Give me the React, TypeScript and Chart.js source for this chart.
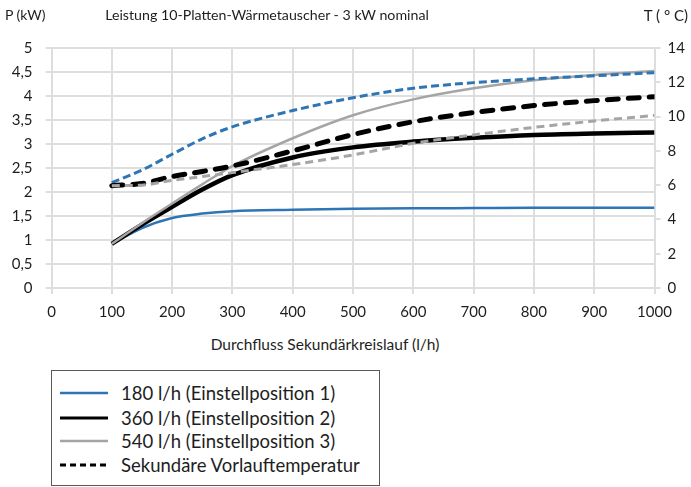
import React, { useEffect, useRef } from "react";
import { Chart, registerables } from "chart.js";

Chart.register(...registerables);

const flows = [100, 150, 200, 250, 300, 400, 500, 600, 700, 800, 900, 1000];
const power180 = [0.92, 1.25, 1.46, 1.55, 1.6, 1.63, 1.65, 1.66, 1.665, 1.67, 1.67, 1.67];
const power360 = [0.92, 1.32, 1.69, 2.05, 2.35, 2.72, 2.93, 3.05, 3.13, 3.19, 3.22, 3.24];
const power540 = [0.92, 1.35, 1.76, 2.16, 2.54, 3.12, 3.6, 3.93, 4.16, 4.33, 4.44, 4.52];
const temp180 = [6.15, 6.88, 7.8, 8.7, 9.4, 10.35, 11.1, 11.65, 11.98, 12.2, 12.38, 12.56];
const temp360 = [5.97, 6.1, 6.5, 6.8, 7.12, 8.0, 8.95, 9.7, 10.23, 10.64, 10.93, 11.16];
const temp540 = [5.97, 6.0, 6.28, 6.5, 6.73, 7.2, 7.76, 8.44, 8.93, 9.37, 9.74, 10.07];

const legendLabels = [
  "180 l/h (Einstellposition 1)",
  "360 l/h (Einstellposition 2)",
  "540 l/h (Einstellposition 3)",
  "Sekundäre Vorlauftemperatur",
];
const titleText = "Leistung 10-Platten-Wärmetauscher - 3 kW nominal";
const xTitle = "Durchfluss Sekundärkreislauf (l/h)";
const leftTitle = "P (kW)";
const rightTitle = "T ( ° C)";

const BLUE = "#2E75B6";
const BLACK = "#000000";
const GRAY = "#A5A5A5";
const GRID = "#dedede";
const TEXT = "#1e1e1e";
const FONT = "Lato, 'Liberation Sans', sans-serif";

const pts = (ys: number[]) => flows.map((x, i) => ({ x, y: ys[i] }));

export default function App() {
  const ref = useRef<HTMLCanvasElement | null>(null);
  useEffect(() => {
    document.body.style.margin = "0";
    const canvas = ref.current!;
    const base = {
      pointRadius: 0,
      cubicInterpolationMode: "monotone" as const,
      fill: false,
    };
    const chart = new Chart(canvas, {
      type: "line",
      data: {
        datasets: [
          { ...base, label: legendLabels[0], data: pts(power180), borderColor: BLUE, borderWidth: 2.5, yAxisID: "y", order: 6 },
          { ...base, label: legendLabels[1], data: pts(power360), borderColor: BLACK, borderWidth: 4.5, yAxisID: "y", order: 5 },
          { ...base, label: legendLabels[2], data: pts(power540), borderColor: GRAY, borderWidth: 2.5, yAxisID: "y", order: 4 },
          { ...base, label: "T 180", data: pts(temp180), borderColor: BLUE, borderWidth: 3, borderDash: [8, 4], yAxisID: "y1", order: 3 },
          { ...base, label: "T 360", data: pts(temp360), borderColor: BLACK, borderWidth: 5, borderDash: [11, 10], borderCapStyle: "round", yAxisID: "y1", order: 2 },
          { ...base, label: "T 540", data: pts(temp540), borderColor: GRAY, borderWidth: 3, borderDash: [8, 5], yAxisID: "y1", order: 1 },
        ],
      },
      options: {
        animation: false,
        responsive: false,
        maintainAspectRatio: false,
        layout: { padding: { top: 48, left: 0, right: 0, bottom: 0 } },
        plugins: { legend: { display: false }, tooltip: { enabled: false }, title: { display: false } },
        scales: {
          x: {
            type: "linear",
            min: 0,
            max: 1000,
            ticks: {
              stepSize: 100,
              color: TEXT,
              font: { family: FONT, size: 15 },
              padding: 9,
              maxRotation: 0,
              callback: (v: any) => String(v),
            },
            grid: { color: GRID, lineWidth: 2, tickLength: 6, drawTicks: true },
            border: { color: GRID, width: 2 },
            afterFit: (s: any) => { s.height = 42; },
          },
          y: {
            position: "left",
            min: 0,
            max: 5,
            ticks: {
              stepSize: 0.5,
              color: TEXT,
              font: { family: FONT, size: 15 },
              padding: 13,
              callback: (v: any) => String(v).replace(".", ","),
            },
            grid: { color: GRID, lineWidth: 2, tickLength: 6 },
            border: { color: GRID, width: 2 },
            afterFit: (s: any) => { s.width = 51.5; },
          },
          y1: {
            position: "right",
            min: 0,
            max: 14,
            ticks: { stepSize: 2, color: TEXT, font: { family: FONT, size: 15 }, padding: 7, callback: (v: any) => String(v) },
            grid: { drawOnChartArea: false, color: GRID, lineWidth: 2, tickLength: 6 },
            border: { color: GRID, width: 2 },
            afterFit: (s: any) => { s.width = 36.5; },
          },
        },
      },
    });
    return () => chart.destroy();
  }, []);

  const txt: React.CSSProperties = {
    position: "absolute",
    fontFamily: FONT,
    fontSize: 15,
    lineHeight: "20px",
    color: TEXT,
    whiteSpace: "nowrap",
  };
  const rowTops = [382, 407, 430, 454];

  return (
    <div style={{ position: "relative", width: 691, height: 487, overflow: "hidden", background: "#fff" }}>
      <canvas ref={ref} width={691} height={330} style={{ position: "absolute", left: 0, top: 0 }} />
      <div style={{ ...txt, left: 5, top: 5, fontSize: 14 }}>{leftTitle}</div>
      <div style={{ ...txt, left: 67, width: 400, top: 5, textAlign: "center", fontSize: 14.2 }}>{titleText}</div>
      <div style={{ ...txt, right: 3, top: 5 }}>{rightTitle}</div>
      <div style={{ ...txt, left: 125, width: 400, top: 334, textAlign: "center", fontSize: 15.5 }}>{xTitle}</div>
      <div
        style={{
          position: "absolute",
          left: 51,
          top: 370,
          width: 329,
          height: 116,
          border: "1px solid #5a5a5a",
          boxSizing: "border-box",
        }}
      />
      {legendLabels.map((l, i) => (
        <React.Fragment key={l}>
          <svg style={{ position: "absolute", left: 60, top: rowTops[i] + 7 }} width={48} height={8}>
            <line
              x1={0}
              y1={4}
              x2={48}
              y2={4}
              stroke={i === 0 ? BLUE : i === 2 ? GRAY : BLACK}
              strokeWidth={i === 0 || i === 2 ? 2.5 : 3}
              strokeDasharray={i === 3 ? "6 4" : undefined}
            />
          </svg>
          <div style={{ ...txt, left: 121, top: rowTops[i], fontSize: 18.5, lineHeight: "22px" }}>{l}</div>
        </React.Fragment>
      ))}
    </div>
  );
}
